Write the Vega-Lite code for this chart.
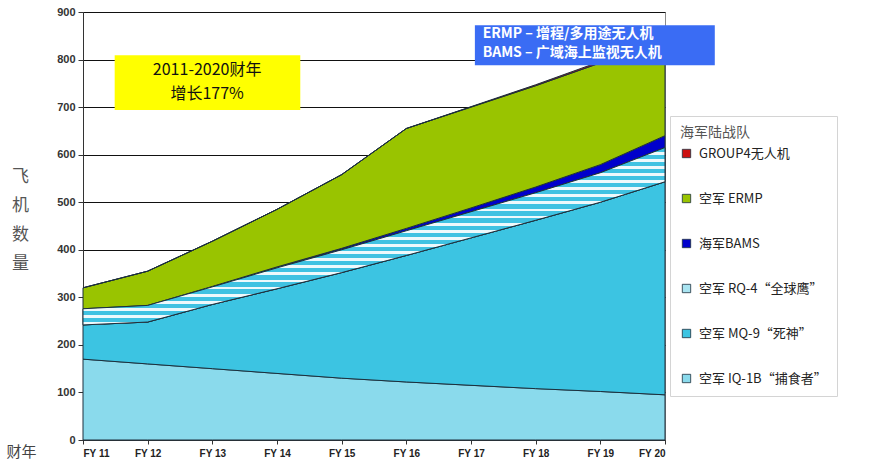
{
  "$schema": "https://vega.github.io/schema/vega-lite/v6.json",
  "width": 582,
  "height": 428,
  "autosize": "none",
  "padding": {"left": 83, "top": 12, "right": 207, "bottom": 27},
  "background": "white",
  "config": {
    "view": {"stroke": "#8a8a8a", "strokeWidth": 1},
    "font": "Noto Sans CJK SC"
  },
  "datasets": {
    "uav": [
      {"year": 11, "series": "空军 IQ-1B“捕食者”", "ord": 1, "value": 170},
      {"year": 12, "series": "空军 IQ-1B“捕食者”", "ord": 1, "value": 160},
      {"year": 13, "series": "空军 IQ-1B“捕食者”", "ord": 1, "value": 150},
      {"year": 14, "series": "空军 IQ-1B“捕食者”", "ord": 1, "value": 140},
      {"year": 15, "series": "空军 IQ-1B“捕食者”", "ord": 1, "value": 130},
      {"year": 16, "series": "空军 IQ-1B“捕食者”", "ord": 1, "value": 122},
      {"year": 17, "series": "空军 IQ-1B“捕食者”", "ord": 1, "value": 115},
      {"year": 18, "series": "空军 IQ-1B“捕食者”", "ord": 1, "value": 108},
      {"year": 19, "series": "空军 IQ-1B“捕食者”", "ord": 1, "value": 102},
      {"year": 20, "series": "空军 IQ-1B“捕食者”", "ord": 1, "value": 95},
      {"year": 11, "series": "空军 MQ-9“死神”", "ord": 2, "value": 72},
      {"year": 12, "series": "空军 MQ-9“死神”", "ord": 2, "value": 88},
      {"year": 13, "series": "空军 MQ-9“死神”", "ord": 2, "value": 135},
      {"year": 14, "series": "空军 MQ-9“死神”", "ord": 2, "value": 178},
      {"year": 15, "series": "空军 MQ-9“死神”", "ord": 2, "value": 222},
      {"year": 16, "series": "空军 MQ-9“死神”", "ord": 2, "value": 266},
      {"year": 17, "series": "空军 MQ-9“死神”", "ord": 2, "value": 310},
      {"year": 18, "series": "空军 MQ-9“死神”", "ord": 2, "value": 354},
      {"year": 19, "series": "空军 MQ-9“死神”", "ord": 2, "value": 398},
      {"year": 20, "series": "空军 MQ-9“死神”", "ord": 2, "value": 448},
      {"year": 11, "series": "空军 RQ-4“全球鹰”", "ord": 3, "value": 34},
      {"year": 12, "series": "空军 RQ-4“全球鹰”", "ord": 3, "value": 35},
      {"year": 13, "series": "空军 RQ-4“全球鹰”", "ord": 3, "value": 37},
      {"year": 14, "series": "空军 RQ-4“全球鹰”", "ord": 3, "value": 44},
      {"year": 15, "series": "空军 RQ-4“全球鹰”", "ord": 3, "value": 48},
      {"year": 16, "series": "空军 RQ-4“全球鹰”", "ord": 3, "value": 52},
      {"year": 17, "series": "空军 RQ-4“全球鹰”", "ord": 3, "value": 55},
      {"year": 18, "series": "空军 RQ-4“全球鹰”", "ord": 3, "value": 58},
      {"year": 19, "series": "空军 RQ-4“全球鹰”", "ord": 3, "value": 62},
      {"year": 20, "series": "空军 RQ-4“全球鹰”", "ord": 3, "value": 72},
      {"year": 11, "series": "海军BAMS", "ord": 4, "value": 0},
      {"year": 12, "series": "海军BAMS", "ord": 4, "value": 0},
      {"year": 13, "series": "海军BAMS", "ord": 4, "value": 1},
      {"year": 14, "series": "海军BAMS", "ord": 4, "value": 2},
      {"year": 15, "series": "海军BAMS", "ord": 4, "value": 3},
      {"year": 16, "series": "海军BAMS", "ord": 4, "value": 5},
      {"year": 17, "series": "海军BAMS", "ord": 4, "value": 8},
      {"year": 18, "series": "海军BAMS", "ord": 4, "value": 12},
      {"year": 19, "series": "海军BAMS", "ord": 4, "value": 17},
      {"year": 20, "series": "海军BAMS", "ord": 4, "value": 25},
      {"year": 11, "series": "空军 ERMP", "ord": 5, "value": 44},
      {"year": 12, "series": "空军 ERMP", "ord": 5, "value": 72},
      {"year": 13, "series": "空军 ERMP", "ord": 5, "value": 95},
      {"year": 14, "series": "空军 ERMP", "ord": 5, "value": 121},
      {"year": 15, "series": "空军 ERMP", "ord": 5, "value": 155},
      {"year": 16, "series": "空军 ERMP", "ord": 5, "value": 210},
      {"year": 17, "series": "空军 ERMP", "ord": 5, "value": 212},
      {"year": 18, "series": "空军 ERMP", "ord": 5, "value": 213},
      {"year": 19, "series": "空军 ERMP", "ord": 5, "value": 214},
      {"year": 20, "series": "空军 ERMP", "ord": 5, "value": 200},
      {"year": 11, "series": "GROUP4无人机", "ord": 6, "value": 0},
      {"year": 12, "series": "GROUP4无人机", "ord": 6, "value": 0},
      {"year": 13, "series": "GROUP4无人机", "ord": 6, "value": 0},
      {"year": 14, "series": "GROUP4无人机", "ord": 6, "value": 0},
      {"year": 15, "series": "GROUP4无人机", "ord": 6, "value": 0},
      {"year": 16, "series": "GROUP4无人机", "ord": 6, "value": 0},
      {"year": 17, "series": "GROUP4无人机", "ord": 6, "value": 1},
      {"year": 18, "series": "GROUP4无人机", "ord": 6, "value": 2},
      {"year": 19, "series": "GROUP4无人机", "ord": 6, "value": 3},
      {"year": 20, "series": "GROUP4无人机", "ord": 6, "value": 4}
    ],
    "boxes": [
      {"x1": 11.49, "x2": 14.36, "y1": 694, "y2": 809, "kind": "yellow"},
      {"x1": 17.06, "x2": 20.77, "y1": 788, "y2": 872, "kind": "blue"}
    ],
    "notes": [
      {"x": 12.92, "y": 777, "text": "2011-2020财年", "kind": "yellow"},
      {"x": 12.92, "y": 727, "text": "增长177%", "kind": "yellow"},
      {"x": 17.18, "y": 853, "text": "ERMP – 增程/多用途无人机", "kind": "blue"},
      {"x": 17.18, "y": 813, "text": "BAMS – 广域海上监视无人机", "kind": "blue"}
    ]
  },
  "layer": [
    {
      "data": {"name": "uav"},
      "mark": {"type": "area", "stroke": "#1c2f3c", "strokeWidth": 1, "opacity": 1},
      "encoding": {
        "x": {
          "field": "year", "type": "quantitative",
          "scale": {"domain": [11, 20], "nice": false, "zero": false},
          "axis": {
            "values": [11, 12, 13, 14, 15, 16, 17, 18, 19, 20],
            "labelExpr": "'FY ' + datum.value",
            "grid": false,
            "domainColor": "#333", "tickColor": "#333", "tickSize": 4,
            "labelFont": "Liberation Sans", "labelFontWeight": "bold", "labelFontSize": 10,
            "labelColor": "#222", "labelPadding": 4,
            "title": "财年", "titleX": -62, "titleY": 11, "titleAlign": "center",
            "titleBaseline": "middle", "titleFontSize": 15, "titleFontWeight": "normal",
            "titleColor": "#444", "titleFont": "Noto Sans CJK SC"
          }
        },
        "y": {
          "field": "value", "type": "quantitative", "stack": "zero",
          "scale": {"domain": [0, 900], "nice": false},
          "axis": {
            "values": [0, 100, 200, 300, 400, 500, 600, 700, 800, 900],
            "grid": true, "gridColor": "#111", "gridWidth": 1, "gridOpacity": 1,
            "domainColor": "#333", "tickColor": "#333", "tickSize": 5,
            "labelFont": "Liberation Sans", "labelFontWeight": "bold", "labelFontSize": 11,
            "labelColor": "#333", "labelPadding": 3,
            "title": ["飞", "机", "数", "量"], "titleAngle": 0, "titleX": -63, "titleY": 156,
            "titleAlign": "center", "titleBaseline": "top", "titleLineHeight": 29,
            "titleFontSize": 17, "titleFontWeight": "normal", "titleColor": "#555",
            "titleFont": "Noto Sans CJK SC"
          }
        },
        "color": {
          "field": "series", "type": "nominal",
          "scale": {
            "domain": ["GROUP4无人机", "空军 ERMP", "海军BAMS", "空军 RQ-4“全球鹰”", "空军 MQ-9“死神”", "空军 IQ-1B“捕食者”"],
            "range": ["#cc1010", "#99c400", "#0000cc", "#a9e4f1", "#3cc4e2", "#8adaec"]
          },
          "legend": {
            "orient": "none", "legendX": 587, "legendY": 104,
            "title": "海军陆战队", "titleFontSize": 14, "titleFontWeight": "normal",
            "titleColor": "#555", "titlePadding": 7, "titleAnchor": "start",
            "titleFont": "Noto Sans CJK SC",
            "symbolType": "square", "symbolSize": 70, "symbolStrokeColor": "#1c2f3c",
            "symbolStrokeWidth": 0.8, "symbolOpacity": 1,
            "labelFont": "Noto Sans CJK SC", "labelFontSize": 13, "labelColor": "#222",
            "labelLimit": 200, "labelOffset": 6, "rowPadding": 31,
            "padding": 10, "strokeColor": "#d4d4d4", "fillColor": "white"
          }
        },
        "order": {"field": "ord", "type": "quantitative"}
      }
    },
    {
      "data": {"name": "uav"},
      "transform": [
        {"stack": "value", "groupby": ["year"], "sort": [{"field": "ord", "order": "ascending"}], "as": ["v0", "v1"]},
        {"filter": "datum.ord == 3"}
      ],
      "mark": {
        "type": "area", "stroke": "#1c2f3c", "strokeWidth": 1,
        "fill": {
          "gradient": "linear", "x1": 0, "y1": 0, "x2": 0, "y2": 1,
          "stops": [
            {"offset": 0, "color": "#40c2e2"}, {"offset": 0.024, "color": "#40c2e2"}, {"offset": 0.024, "color": "#eef9fc"}, {"offset": 0.04, "color": "#eef9fc"},
            {"offset": 0.04, "color": "#40c2e2"}, {"offset": 0.064, "color": "#40c2e2"}, {"offset": 0.064, "color": "#eef9fc"}, {"offset": 0.08, "color": "#eef9fc"},
            {"offset": 0.08, "color": "#40c2e2"}, {"offset": 0.104, "color": "#40c2e2"}, {"offset": 0.104, "color": "#eef9fc"}, {"offset": 0.12, "color": "#eef9fc"},
            {"offset": 0.12, "color": "#40c2e2"}, {"offset": 0.144, "color": "#40c2e2"}, {"offset": 0.144, "color": "#eef9fc"}, {"offset": 0.16, "color": "#eef9fc"},
            {"offset": 0.16, "color": "#40c2e2"}, {"offset": 0.184, "color": "#40c2e2"}, {"offset": 0.184, "color": "#eef9fc"}, {"offset": 0.2, "color": "#eef9fc"},
            {"offset": 0.2, "color": "#40c2e2"}, {"offset": 0.224, "color": "#40c2e2"}, {"offset": 0.224, "color": "#eef9fc"}, {"offset": 0.24, "color": "#eef9fc"},
            {"offset": 0.24, "color": "#40c2e2"}, {"offset": 0.264, "color": "#40c2e2"}, {"offset": 0.264, "color": "#eef9fc"}, {"offset": 0.28, "color": "#eef9fc"},
            {"offset": 0.28, "color": "#40c2e2"}, {"offset": 0.304, "color": "#40c2e2"}, {"offset": 0.304, "color": "#eef9fc"}, {"offset": 0.32, "color": "#eef9fc"},
            {"offset": 0.32, "color": "#40c2e2"}, {"offset": 0.344, "color": "#40c2e2"}, {"offset": 0.344, "color": "#eef9fc"}, {"offset": 0.36, "color": "#eef9fc"},
            {"offset": 0.36, "color": "#40c2e2"}, {"offset": 0.384, "color": "#40c2e2"}, {"offset": 0.384, "color": "#eef9fc"}, {"offset": 0.4, "color": "#eef9fc"},
            {"offset": 0.4, "color": "#40c2e2"}, {"offset": 0.424, "color": "#40c2e2"}, {"offset": 0.424, "color": "#eef9fc"}, {"offset": 0.44, "color": "#eef9fc"},
            {"offset": 0.44, "color": "#40c2e2"}, {"offset": 0.464, "color": "#40c2e2"}, {"offset": 0.464, "color": "#eef9fc"}, {"offset": 0.48, "color": "#eef9fc"},
            {"offset": 0.48, "color": "#40c2e2"}, {"offset": 0.504, "color": "#40c2e2"}, {"offset": 0.504, "color": "#eef9fc"}, {"offset": 0.52, "color": "#eef9fc"},
            {"offset": 0.52, "color": "#40c2e2"}, {"offset": 0.544, "color": "#40c2e2"}, {"offset": 0.544, "color": "#eef9fc"}, {"offset": 0.56, "color": "#eef9fc"},
            {"offset": 0.56, "color": "#40c2e2"}, {"offset": 0.584, "color": "#40c2e2"}, {"offset": 0.584, "color": "#eef9fc"}, {"offset": 0.6, "color": "#eef9fc"},
            {"offset": 0.6, "color": "#40c2e2"}, {"offset": 0.624, "color": "#40c2e2"}, {"offset": 0.624, "color": "#eef9fc"}, {"offset": 0.64, "color": "#eef9fc"},
            {"offset": 0.64, "color": "#40c2e2"}, {"offset": 0.664, "color": "#40c2e2"}, {"offset": 0.664, "color": "#eef9fc"}, {"offset": 0.68, "color": "#eef9fc"},
            {"offset": 0.68, "color": "#40c2e2"}, {"offset": 0.704, "color": "#40c2e2"}, {"offset": 0.704, "color": "#eef9fc"}, {"offset": 0.72, "color": "#eef9fc"},
            {"offset": 0.72, "color": "#40c2e2"}, {"offset": 0.744, "color": "#40c2e2"}, {"offset": 0.744, "color": "#eef9fc"}, {"offset": 0.76, "color": "#eef9fc"},
            {"offset": 0.76, "color": "#40c2e2"}, {"offset": 0.784, "color": "#40c2e2"}, {"offset": 0.784, "color": "#eef9fc"}, {"offset": 0.8, "color": "#eef9fc"},
            {"offset": 0.8, "color": "#40c2e2"}, {"offset": 0.824, "color": "#40c2e2"}, {"offset": 0.824, "color": "#eef9fc"}, {"offset": 0.84, "color": "#eef9fc"},
            {"offset": 0.84, "color": "#40c2e2"}, {"offset": 0.864, "color": "#40c2e2"}, {"offset": 0.864, "color": "#eef9fc"}, {"offset": 0.88, "color": "#eef9fc"},
            {"offset": 0.88, "color": "#40c2e2"}, {"offset": 0.904, "color": "#40c2e2"}, {"offset": 0.904, "color": "#eef9fc"}, {"offset": 0.92, "color": "#eef9fc"},
            {"offset": 0.92, "color": "#40c2e2"}, {"offset": 0.944, "color": "#40c2e2"}, {"offset": 0.944, "color": "#eef9fc"}, {"offset": 0.96, "color": "#eef9fc"},
            {"offset": 0.96, "color": "#40c2e2"}, {"offset": 0.984, "color": "#40c2e2"}, {"offset": 0.984, "color": "#eef9fc"}, {"offset": 1, "color": "#eef9fc"}
          ]
        }
      },
      "encoding": {
        "x": {"field": "year", "type": "quantitative"},
        "y": {"field": "v1", "type": "quantitative"},
        "y2": {"field": "v0"}
      }
    },
    {
      "data": {"name": "boxes"},
      "mark": {"type": "rect", "clip": false},
      "encoding": {
        "x": {"field": "x1", "type": "quantitative"},
        "x2": {"field": "x2"},
        "y": {"field": "y1", "type": "quantitative"},
        "y2": {"field": "y2"},
        "fill": {
          "field": "kind", "type": "nominal",
          "scale": {"domain": ["yellow", "blue"], "range": ["#ffff00", "#3a6cf4"]},
          "legend": null
        }
      }
    },
    {
      "data": {"name": "notes"},
      "transform": [{"filter": "datum.kind == 'yellow'"}],
      "mark": {"type": "text", "align": "center", "baseline": "middle", "fontSize": 16, "color": "#111", "font": "Noto Sans CJK SC"},
      "encoding": {
        "x": {"field": "x", "type": "quantitative"},
        "y": {"field": "y", "type": "quantitative"},
        "text": {"field": "text"}
      }
    },
    {
      "data": {"name": "notes"},
      "transform": [{"filter": "datum.kind == 'blue'"}],
      "mark": {"type": "text", "align": "left", "baseline": "middle", "fontSize": 14, "fontWeight": "bold", "color": "white", "font": "Noto Sans CJK SC", "clip": false},
      "encoding": {
        "x": {"field": "x", "type": "quantitative"},
        "y": {"field": "y", "type": "quantitative"},
        "text": {"field": "text"}
      }
    }
  ]
}
